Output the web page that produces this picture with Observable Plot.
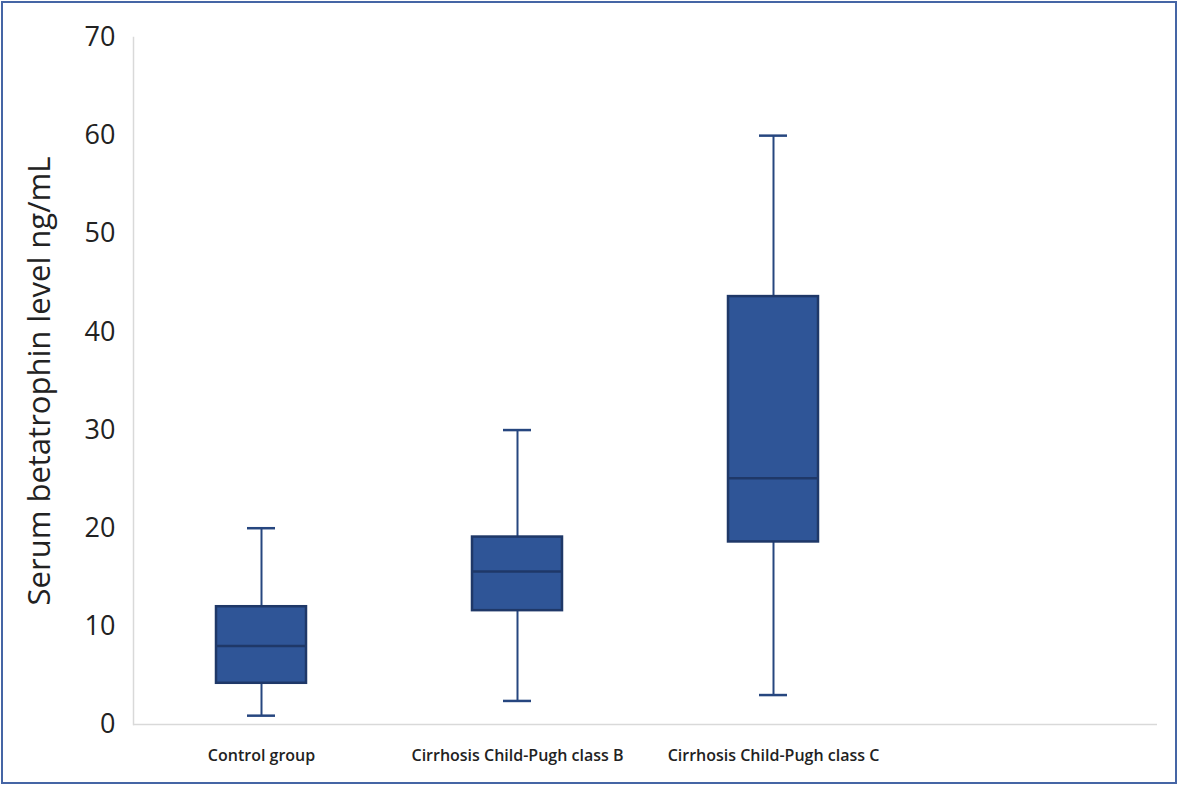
<!DOCTYPE html>
<html>
<head>
<meta charset="utf-8">
<script src="https://cdn.jsdelivr.net/npm/d3@7"></script>
<script src="https://cdn.jsdelivr.net/npm/@observablehq/plot@0.6"></script>
<style>
  html, body { margin: 0; padding: 0; background: #fff; }
  #wrap { position: relative; width: 1181px; height: 788px; }
  #border { position: absolute; left: 1px; top: 1px; width: 1176px; height: 783px; box-sizing: border-box; border: 2px solid #4565a5; pointer-events: none; }
  svg { display: block; }
</style>
</head>
<body>
<div id="wrap"><div id="border"></div></div>
<script>
const categories = ["Control group", "Cirrhosis Child-Pugh class B", "Cirrhosis Child-Pugh class C"];
const minVals    = [0.9, 2.4, 3.0];
const q1Vals     = [4.2, 11.6, 18.6];
const medianVals = [8.0, 15.6, 25.1];
const q3Vals     = [12.0, 19.1, 43.6];
const maxVals    = [20.0, 30.0, 60.0];
const yTicks     = [0, 10, 20, 30, 40, 50, 60, 70];
const yLabel     = "Serum betatrophin level ng/mL";

const data = categories.map((c, i) => ({
  cat: c, min: minVals[i], q1: q1Vals[i], median: medianVals[i], q3: q3Vals[i], max: maxVals[i]
}));

const xDomain = [...categories, "_"];
const fill = "#2f5597";
const dark = "#1f3868";
const whisker = "#26467f";

const chart = Plot.plot({
  width: 1181,
  height: 788,
  marginLeft: 133,
  marginRight: 24,
  marginTop: 37,
  marginBottom: 64,
  style: { fontFamily: "'Open Sans', sans-serif", background: "transparent", color: "#222" },
  x: { type: "band", domain: xDomain, padding: 0, axis: null },
  y: { domain: [0, 70], axis: null },
  marks: [
    Plot.ruleY([0], { stroke: "#d9d9d9", strokeWidth: 1.5 }),
    Plot.frame({ anchor: "left", stroke: "#d9d9d9", strokeWidth: 1.5 }),
    Plot.ruleX(data, { x: "cat", y1: "min", y2: "q1", stroke: whisker, strokeWidth: 2 }),
    Plot.ruleX(data, { x: "cat", y1: "q3", y2: "max", stroke: whisker, strokeWidth: 2 }),
    Plot.tickY(data, { x: "cat", y: "min", stroke: whisker, strokeWidth: 2.5, inset: 114 }),
    Plot.tickY(data, { x: "cat", y: "max", stroke: whisker, strokeWidth: 2.5, inset: 114 }),
    Plot.barY(data, { x: "cat", y1: "q1", y2: "q3", fill: fill, stroke: dark, strokeWidth: 2.5, insetLeft: 83, insetRight: 83 }),
    Plot.tickY(data, { x: "cat", y: "median", stroke: dark, strokeWidth: 2.5, inset: 83 }),
    Plot.axisY({ ticks: yTicks, tickSize: 0, tickPadding: 18, fontSize: 27, label: null, fill: "#222" }),
    Plot.axisX({ ticks: categories, tickSize: 0, tickPadding: 25, fontSize: 16, fontWeight: 600, label: null, fill: "#222" }),
    Plot.text([yLabel], { frameAnchor: "left", textAnchor: "middle", rotate: -90, dx: -93, fontSize: 31, fill: "#222" })
  ]
});
document.getElementById("wrap").prepend(chart);
</script>
</body>
</html>
